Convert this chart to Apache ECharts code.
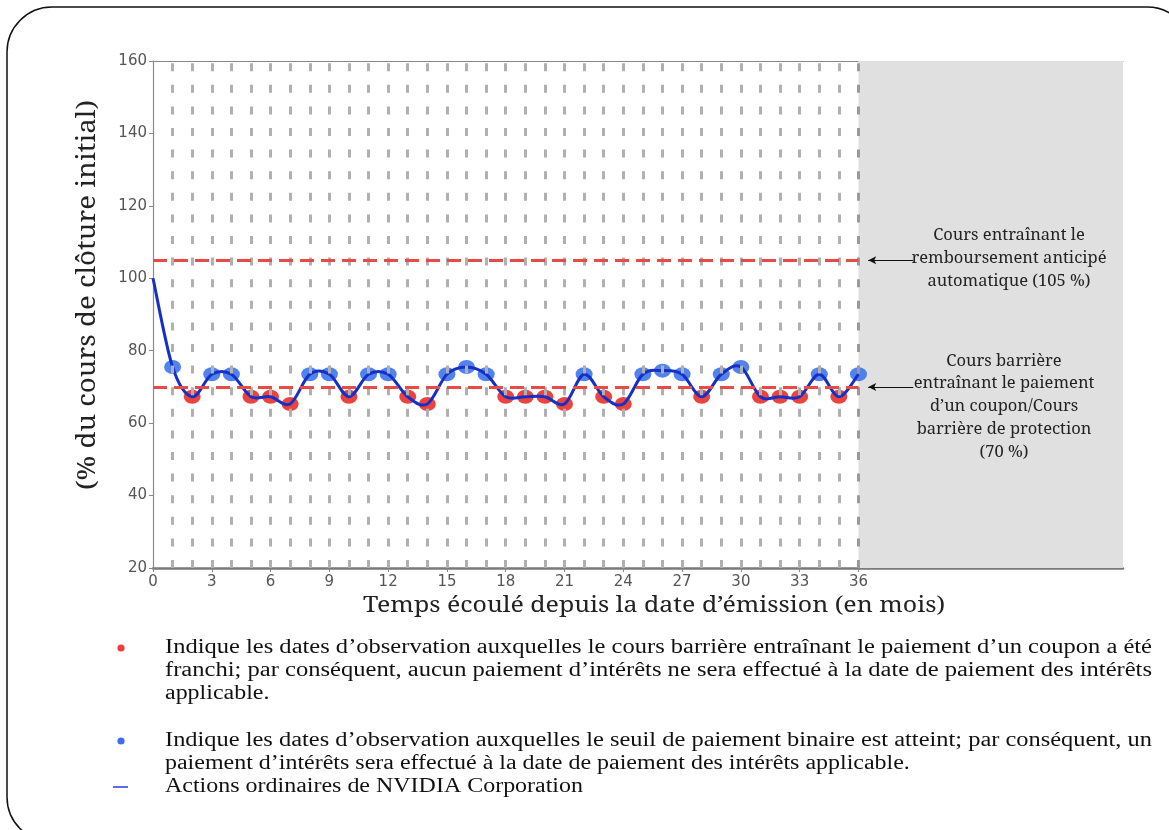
<!DOCTYPE html>
<html><head><meta charset="utf-8">
<script src="https://cdn.jsdelivr.net/npm/echarts@6/dist/echarts.min.js"></script>
<style>html,body{margin:0;padding:0;background:#fff}#c{width:1169px;height:830px}</style>
</head><body><div id="c"></div>
<script>
// ---------- data ----------
const months = [0,1,2,3,4,5,6,7,8,9,10,11,12,13,14,15,16,17,18,19,20,21,22,23,24,25,26,27,28,29,30,31,32,33,34,35,36];
const values = [100,75.5,67.3,73.5,73.5,67.3,67.3,65.3,73.5,73.5,67.3,73.5,73.5,67.3,65.3,73.5,75.5,73.5,67.3,67.3,67.3,65.3,73.5,67.3,65.3,73.5,74.5,73.5,67.3,73.5,75.5,67.3,67.3,67.3,73.5,67.3,73.5];
const barrierLevel = 70;
const autocallLevel = 105;
const lastObservationMonth = 36;
const xTickLabels = [0,3,6,9,12,15,18,21,24,27,30,33,36];
const yTickLabels = [20,40,60,80,100,120,140,160];
const xAxisTitle = 'Temps écoulé depuis la date d’émission (en mois)';
const yAxisTitle = '(% du cours de clôture initial)';
const autocallNote = ['Cours entraînant le', 'remboursement anticipé', 'automatique (105 %)'];
const barrierNote = ['Cours barrière', 'entraînant le paiement', 'd’un coupon/Cours', 'barrière de protection', '(70 %)'];
const legendRed = ['Indique les dates d’observation auxquelles le cours barrière entraînant le paiement d’un coupon a été',
  'franchi; par conséquent, aucun paiement d’intérêts ne sera effectué à la date de paiement des intérêts',
  'applicable.'];
const legendBlue = ['Indique les dates d’observation auxquelles le seuil de paiement binaire est atteint; par conséquent, un',
  'paiement d’intérêts sera effectué à la date de paiement des intérêts applicable.'];
const legendLine = 'Actions ordinaires de NVIDIA Corporation';

// ---------- derived ----------
const lineData = months.map((m, i) => [m, values[i]]);
const obs = lineData.filter(d => d[0] >= 1);
const redPts = obs.filter(d => d[1] < barrierLevel);
const bluePts = obs.filter(d => d[1] >= barrierLevel);
const AXIS_MAX = 49.5;

const chart = echarts.init(document.getElementById('c'));
const vLines = obs.map(d => ({
  xAxis: d[0],
  lineStyle: { color: d[0] === lastObservationMonth ? '#9a9a9a' : '#b0b0b0', width: 3, type: [8, 13.6] }
}));

// Catmull-Rom spline through the data points, positioned by the axes
function renderSpline(params, api) {
  if (params.dataIndex !== 0) return null;
  const P = lineData.map(d => api.coord(d));
  let path = 'M' + P[0][0] + ' ' + P[0][1];
  for (let i = 0; i < P.length - 1; i++) {
    const p0 = P[i - 1] || P[i], p1 = P[i], p2 = P[i + 1], p3 = P[i + 2] || P[i + 1];
    const c1x = p1[0] + (p2[0] - p0[0]) / 6, c1y = p1[1] + (p2[1] - p0[1]) / 6;
    const c2x = p2[0] - (p3[0] - p1[0]) / 6, c2y = p2[1] - (p3[1] - p1[1]) / 6;
    path += ' C' + c1x + ' ' + c1y + ' ' + c2x + ' ' + c2y + ' ' + p2[0] + ' ' + p2[1];
  }
  return { type: 'path', shape: { pathData: path },
    style: { fill: 'none', stroke: '#1530c8', lineWidth: 3, lineJoin: 'round' } };
}

chart.setOption({
  animation: false,
  grid: { left: 153, right: 46, top: 61, bottom: 262, containLabel: false },
  xAxis: [{
    type: 'value', min: 0, max: AXIS_MAX, interval: 3, position: 'bottom',
    axisLine: { show: true, lineStyle: { color: '#7a7a7a', width: 2.5 } },
    axisTick: { show: true, length: 4, customValues: xTickLabels, lineStyle: { color: '#888' } },
    axisLabel: { customValues: xTickLabels, color: '#555', fontSize: 15, fontFamily: 'DejaVu Sans', margin: 7 },
    splitLine: { show: false }
  }, {
    type: 'value', min: 0, max: AXIS_MAX, position: 'top',
    axisLine: { show: true, lineStyle: { color: '#888', width: 1.2 } },
    axisTick: { show: false }, axisLabel: { show: false }, splitLine: { show: false }
  }],
  yAxis: {
    type: 'value', min: 20, max: 160, interval: 20,
    axisLine: { show: true, lineStyle: { color: '#8a8a8a', width: 1.2 } },
    axisTick: { show: true, length: 4, lineStyle: { color: '#888' } },
    axisLabel: { color: '#555', fontSize: 15, fontFamily: 'DejaVu Sans', margin: 6,
      formatter: v => yTickLabels.includes(v) ? String(v) : '' },
    splitLine: { show: false }
  },
  series: [
    {
      name: 'background', type: 'line', data: [], z: 1, silent: true,
      markArea: { silent: true, itemStyle: { color: '#e0e0e0' },
        data: [[{ xAxis: lastObservationMonth }, { xAxis: AXIS_MAX }]] },
      markLine: { silent: true, symbol: ['none', 'none'], label: { show: false }, data: vLines }
    },
    {
      name: 'levels', type: 'line', data: [], z: 2, silent: true,
      markLine: {
        silent: true, symbol: ['none', 'none'], label: { show: false },
        lineStyle: { color: '#e84a45', width: 3, type: [14, 7] },
        data: [
          [{ coord: [0, autocallLevel] }, { coord: [lastObservationMonth, autocallLevel] }],
          [{ coord: [0, barrierLevel] }, { coord: [lastObservationMonth, barrierLevel] }],
          [{ coord: [38.8, autocallLevel], symbol: 'none', lineStyle: { color: '#111', width: 1, type: 'solid' } },
           { coord: [36.5, autocallLevel], symbol: 'arrow', symbolSize: [6, 8] }],
          [{ coord: [38.8, barrierLevel], symbol: 'none', lineStyle: { color: '#111', width: 1, type: 'solid' } },
           { coord: [36.5, barrierLevel], symbol: 'arrow', symbolSize: [6, 8] }]
        ]
      }
    },
    {
      name: 'franchi', type: 'scatter', data: redPts, z: 3, symbol: 'circle', symbolSize: [17, 14],
      itemStyle: { color: '#ea3a34', opacity: 0.95 }
    },
    {
      name: 'atteint', type: 'scatter', data: bluePts, z: 3, symbol: 'circle', symbolSize: [17, 14],
      itemStyle: { color: '#3f74ea', opacity: 0.9 }
    },
    {
      name: 'NVIDIA', type: 'custom', data: lineData, z: 4, silent: true,
      encode: { x: 0, y: 1 }, renderItem: renderSpline
    }
  ]
});

// ---------- text fitting helpers ----------
const mctx = document.createElement('canvas').getContext('2d');
const SERIF_A = '"Noto Serif", "DejaVu Serif", serif';
const SERIF_B = '"Liberation Serif", "Times New Roman", serif';
function tw(t, size, fam) { mctx.font = size + 'px ' + fam; return mctx.measureText(t).width; }
const px = (x, y) => chart.convertToPixel({ xAxisIndex: 0, yAxisIndex: 0 }, [x, y]);
function txt(o) { return Object.assign({ type: 'text', z: 100, silent: true }, o); }

const gfx = [];
// border
gfx.push({ type: 'rect', shape: { x: 7, y: 7, width: 1185, height: 835, r: 45 }, silent: true,
  style: { fill: 'none', stroke: '#111', lineWidth: 1.5 }, z: 100 });

// axis titles
const xtSize = 22, xtScale = 582 / tw(xAxisTitle, xtSize, SERIF_A);
gfx.push(txt({ x: 654, y: 606, scaleX: xtScale,
  style: { text: xAxisTitle, font: xtSize + 'px ' + SERIF_A, fill: '#222', align: 'center', verticalAlign: 'middle' } }));
const ytSize = 23, ytScale = 390 / tw(yAxisTitle, ytSize, SERIF_A);
gfx.push(txt({ x: 88, y: 295, rotation: Math.PI / 2, scaleX: ytScale, scaleY: 1.1,
  style: { text: yAxisTitle, font: ytSize + 'px ' + SERIF_A, fill: '#222', align: 'center', verticalAlign: 'middle' } }));

// annotations
const anSize = 16, anScale = 195 / tw(autocallNote[1], anSize, SERIF_A), anLH = 22.8;
const pA = px(lastObservationMonth, autocallLevel), pB = px(lastObservationMonth, barrierLevel);
gfx.push(txt({ x: 1009, y: pA[1] - 2, scaleX: anScale,
  style: { text: autocallNote.join('\n'), font: anSize + 'px ' + SERIF_A, fill: '#222', align: 'center', verticalAlign: 'middle', lineHeight: anLH } }));
gfx.push(txt({ x: 1004, y: pB[1] - 3 + anLH, scaleX: anScale,
  style: { text: barrierNote.join('\n'), font: anSize + 'px ' + SERIF_A, fill: '#222', align: 'center', verticalAlign: 'middle', lineHeight: anLH } }));

// legend
const lgSize = 20, baseScale = 418 / tw(legendLine, lgSize, SERIF_B);
function lgText(t, y, target) {
  const s = target ? target / tw(t, lgSize, SERIF_B) : baseScale;
  gfx.push(txt({ x: 165, y: y, scaleX: s,
    style: { text: t, font: lgSize + 'px ' + SERIF_B, fill: '#111', verticalAlign: 'middle' } }));
}
gfx.push({ type: 'circle', shape: { cx: 121, cy: 648, r: 3.6 }, style: { fill: '#f23b3b' }, z: 100 });
lgText(legendRed[0], 648, 987);
lgText(legendRed[1], 671, 987);
lgText(legendRed[2], 694, 0);
gfx.push({ type: 'circle', shape: { cx: 121, cy: 741, r: 3.6 }, style: { fill: '#3c6cf2' }, z: 100 });
lgText(legendBlue[0], 741, 987);
lgText(legendBlue[1], 764, 0);
gfx.push({ type: 'line', shape: { x1: 113, y1: 787, x2: 128, y2: 787 }, style: { stroke: '#1f3cf5', lineWidth: 1.5 }, z: 100 });
lgText(legendLine, 787, 0);

chart.setOption({ graphic: gfx });
</script></body></html>
